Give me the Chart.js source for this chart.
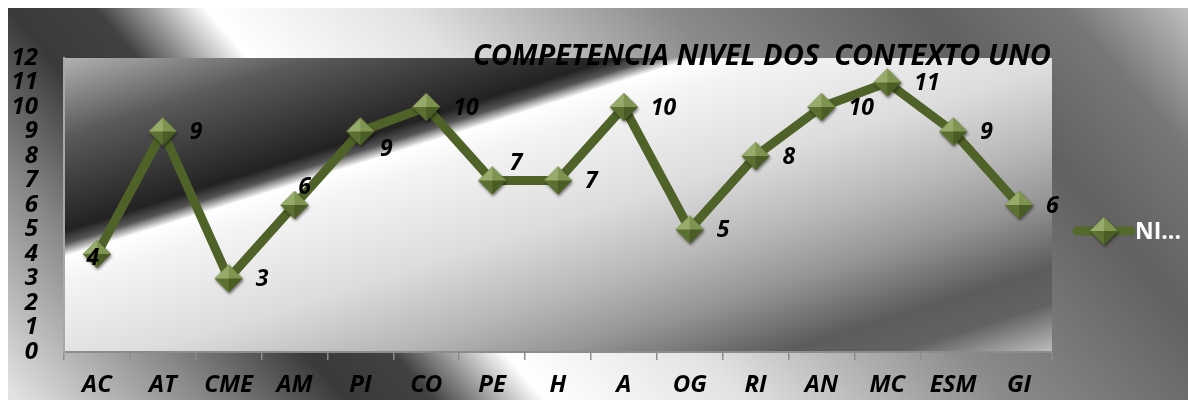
<!DOCTYPE html>
<html>
<head>
<meta charset="utf-8">
<script src="https://cdn.jsdelivr.net/npm/chart.js@4.4.1/dist/chart.umd.min.js"></script>
<style>
  html, body { margin: 0; padding: 0; background: #fff; }
  canvas { display: block; }
</style>
</head>
<body>
<canvas id="competenciaChart" width="1188" height="400"></canvas>
<script>
// datos del grafico
const categories = ['AC', 'AT', 'CME', 'AM', 'PI', 'CO', 'PE', 'H', 'A', 'OG', 'RI', 'AN', 'MC', 'ESM', 'GI'];
const nivelValues = [4, 9, 3, 6, 9, 10, 7, 7, 10, 5, 8, 10, 11, 9, 6];
const yTickMin = 0;
const yTickMax = 12;
const seriesName = 'NI...';
const chartTitle = 'COMPETENCIA NIVEL DOS  CONTEXTO UNO';

// donde va cada etiqueta respecto a su punto
const labelPlacement = ['c', 'r', 'r', 'a', 'br', 'r', 'ar', 'r', 'r', 'r', 'r', 'r', 'r', 'r', 'r'];

const FONT = '"Open Sans", "DejaVu Sans", sans-serif';
const OLIVE = '#4f6228';

// marcador tipo piramide (diamante biselado)
function makeMarker(r) {
    const pad = 5;
    const size = (r + pad) * 2;
    const c = document.createElement('canvas');
    c.width = size;
    c.height = size;
    const g = c.getContext('2d');
    const m = size / 2;
    const top = [m, m - r], right = [m + r, m], bottom = [m, m + r], left = [m - r, m];

    g.save();
    g.shadowColor = 'rgba(0,0,0,0.5)';
    g.shadowBlur = 3;
    g.shadowOffsetX = 1;
    g.shadowOffsetY = 2;
    g.beginPath();
    g.moveTo(top[0], top[1]); g.lineTo(right[0], right[1]);
    g.lineTo(bottom[0], bottom[1]); g.lineTo(left[0], left[1]);
    g.closePath();
    g.fillStyle = OLIVE;
    g.fill();
    g.restore();

    const facets = [
        [left, top, '#97ab6b'],
        [top, right, '#7e9450'],
        [right, bottom, '#4a5d24'],
        [bottom, left, '#5c7131']
    ];
    facets.forEach(f => {
        g.beginPath();
        g.moveTo(m, m);
        g.lineTo(f[0][0], f[0][1]);
        g.lineTo(f[1][0], f[1][1]);
        g.closePath();
        g.fillStyle = f[2];
        g.fill();
    });
    return c;
}
const marker = makeMarker(14);

function gradientAlong(ctx, nx, ny, t0, t1, stops) {
    const grad = ctx.createLinearGradient(nx * t0, ny * t0, nx * t1, ny * t1);
    stops.forEach(s => grad.addColorStop((s[0] - t0) / (t1 - t0), s[1]));
    return grad;
}

// fondo metalico del area del grafico y del area de trazado
const backgroundPlugin = {
    id: 'metalBackground',
    beforeDraw(chart) {
        const ctx = chart.ctx;
        const area = chart.chartArea;
        ctx.save();
        ctx.fillStyle = gradientAlong(ctx, 0.755, -0.655, -250, 900, [
            [-250, '#e2e2e2'],
            [-110, '#8a8a8a'],
            [0, '#3a3a3a'],
            [66, '#414141'],
            [150, '#ffffff'],
            [300, '#e2e2e2'],
            [500, '#8a8a8a'],
            [690, '#616161'],
            [800, '#777777'],
            [900, '#c4c4c4']
        ]);
        ctx.fillRect(8, 8, chart.width - 8, chart.height - 8);

        ctx.fillStyle = gradientAlong(ctx, 0.300, 0.954, 60, 660, [
            [60, '#c2c2c2'],
            [150, '#5a5a5a'],
            [240, '#222222'],
            [252, '#555555'],
            [264, '#ffffff'],
            [290, '#f4f4f4'],
            [380, '#dcdcdc'],
            [450, '#b8b8b8'],
            [505, '#959595'],
            [570, '#5c5c5c'],
            [605, '#626262'],
            [660, '#d0d0d0']
        ]);
        ctx.fillRect(area.left, area.top, area.right - area.left, area.bottom - area.top);
        ctx.restore();
    }
};

// titulo, etiquetas de datos y leyenda
const annotationPlugin = {
    id: 'annotations',
    afterDatasetsDraw(chart) {
        const ctx = chart.ctx;
        const meta = chart.getDatasetMeta(0);
        ctx.save();
        ctx.fillStyle = '#000';
        ctx.font = 'italic bold 23px ' + FONT;
        ctx.textBaseline = 'middle';
        meta.data.forEach((pt, i) => {
            const txt = String(nivelValues[i]);
            const p = labelPlacement[i];
            if (p === 'r') {
                ctx.textAlign = 'left';
                ctx.fillText(txt, pt.x + 27, pt.y + 1);
            } else {
                ctx.textAlign = 'center';
                const off = { c: [-4, 4], a: [10, -18], ar: [24, -17], br: [26, 18] }[p];
                ctx.fillText(txt, pt.x + off[0], pt.y + off[1]);
            }
        });
        ctx.restore();
    },
    afterDraw(chart) {
        const ctx = chart.ctx;
        ctx.save();
        // titulo
        ctx.font = 'italic bold 29px ' + FONT;
        ctx.fillStyle = '#000';
        ctx.textAlign = 'center';
        ctx.textBaseline = 'alphabetic';
        ctx.fillText(chartTitle, 762, 65);

        // leyenda
        const ly = 231;
        ctx.strokeStyle = '#56692d';
        ctx.lineWidth = 9;
        ctx.lineCap = 'round';
        ctx.beginPath();
        ctx.moveTo(1077, ly);
        ctx.lineTo(1131, ly);
        ctx.stroke();
        ctx.drawImage(marker, 1104 - marker.width / 2, ly - marker.height / 2);
        ctx.fillStyle = '#ffffff';
        ctx.font = 'bold 23px ' + FONT;
        ctx.textAlign = 'left';
        ctx.textBaseline = 'middle';
        ctx.fillText(seriesName, 1135, ly + 1);
        ctx.restore();
    }
};

const tickFont = { family: FONT, size: 24, style: 'italic', weight: 'bold' };

const ctx = document.getElementById('competenciaChart').getContext('2d');
const chart = new Chart(ctx, {
    type: 'line',
    data: {
        labels: categories,
        datasets: [{
            label: seriesName,
            data: nivelValues,
            borderColor: OLIVE,
            borderWidth: 9,
            borderJoinStyle: 'round',
            tension: 0,
            fill: false,
            pointStyle: marker,
            pointRadius: 14,
            pointHoverRadius: 14
        }]
    },
    options: {
        responsive: false,
        animation: false,
        devicePixelRatio: 1,
        layout: {
            padding: { top: 58, right: 136, bottom: 0, left: 0 }
        },
        plugins: {
            legend: { display: false },
            title: { display: false },
            tooltip: { enabled: false }
        },
        scales: {
            x: {
                offset: true,
                grid: {
                    display: true,
                    offset: true,
                    drawOnChartArea: false,
                    drawTicks: true,
                    tickLength: 8,
                    color: '#8c8c8c',
                    lineWidth: 1.5
                },
                border: { display: true, color: '#8c8c8c', width: 2 },
                ticks: {
                    color: '#000',
                    font: tickFont,
                    padding: 11,
                    maxRotation: 0,
                    autoSkip: false
                },
                afterFit: function (scale) { scale.height = 48; }
            },
            y: {
                min: yTickMin,
                max: yTickMax,
                grid: { display: true, drawOnChartArea: false, drawTicks: false },
                border: { display: true, color: '#a8a8a8', width: 2 },
                ticks: {
                    stepSize: 1,
                    autoSkip: false,
                    color: '#000',
                    font: tickFont,
                    padding: 26
                },
                afterFit: function (scale) { scale.width = 64; }
            }
        }
    },
    plugins: [backgroundPlugin, annotationPlugin]
});
</script>
</body>
</html>
